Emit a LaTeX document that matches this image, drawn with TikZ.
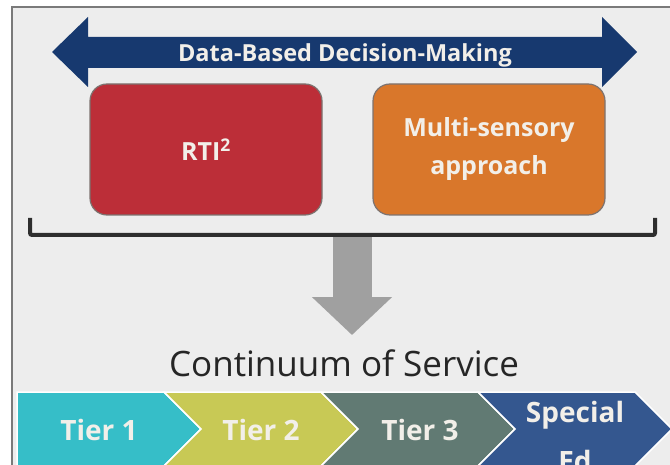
\documentclass[tikz,border=0pt]{standalone}
\usepackage{fontspec}
\setmainfont{Open Sans}
\usetikzlibrary{arrows.meta}

\definecolor{panel}{HTML}{EDEDED}
\definecolor{frame}{HTML}{7A7A7A}
\definecolor{navy}{HTML}{17396F}
\definecolor{rtired}{HTML}{BC2E38}
\definecolor{msorange}{HTML}{D9772B}
\definecolor{boxedge}{HTML}{7D7370}
\definecolor{lbl}{HTML}{F2EFE9}
\definecolor{downgray}{HTML}{A0A0A0}
\definecolor{bracket}{HTML}{2E2E2E}
\definecolor{tierA}{HTML}{36BEC8}
\definecolor{tierB}{HTML}{C8C955}
\definecolor{tierC}{HTML}{617A73}
\definecolor{tierD}{HTML}{34578F}

\tikzset{
  box/.style={draw=boxedge, line width=1.2pt, rounded corners=17pt,
    minimum width=232pt, minimum height=131pt, text=lbl, align=center,
    font=\bfseries\fontsize{25}{38}\selectfont},
  tier/.style={draw=white, line width=1.5pt},
  tierlbl/.style={text=lbl, inner sep=0pt, align=center,
    font=\bfseries\fontsize{28}{49}\selectfont},
  downarrow/.style={draw=downgray, line width=39pt,
    -{Triangle[width=78pt,length=38pt]}},
  brace/.style={draw=bracket, line width=4pt, rounded corners=2pt}
}

\begin{document}
\begin{tikzpicture}[x=1pt,y=-1pt]
        \useasboundingbox (0,0) rectangle (670,465);
        \clip (0,0) rectangle (670,465);
        \fill[white] (0,0) rectangle (670,465);
        \fill[panel] (12,7) rectangle (672,467);
        \draw[frame, line width=2pt] (12,467) -- (12,7) -- (672,7);

        % decision-making band
        \fill[navy] (52,52) -- (88,17) -- (88,37) -- (602,37) -- (602,17) -- (637,52)
                -- (602,87) -- (602,68) -- (88,68) -- (88,87) -- cycle;
        \node[text=lbl, font=\bfseries\fontsize{23.5}{28}\selectfont, anchor=base] (dbdm) at (345,62) {Data-Based Decision-Making};

        \node[box, fill=rtired] (rti) at (206,149.5) {RTI\textsuperscript{2}};
        \node[box, fill=msorange] (multi) at (489,149.5) {Multi-sensory\\approach};

        \node[font=\fontsize{35}{40}\selectfont, text=black!85, inner sep=0pt, anchor=base] (cont) at (344,377) {Continuum of Service};

        \coordinate (brkmid) at (352,236);
        \draw[downarrow, shorten >=15pt] (brkmid) -- (brkmid |- cont.north);
        \draw[brace] (30,218) -- (30,235) -- (655,235) -- (655,218);

        \foreach \n/\col/\l/\d/\r/\tx/\ty/\anc/\txt in {
                1/tierA/17/0/164/99/440/base/Tier 1,
                2/tierB/164/37/321/261/440/base/Tier 2,
                3/tierC/321/37/478/420/440/base/Tier 3,
                4/tierD/478/37/635/575/436/center/{Special\\Ed}}
        {
                \filldraw[tier, fill=\col] (\l,392) -- (\r,392) -- (\r+37,429) -- (\r,466) -- (\l,466) -- (\l+\d,429) -- cycle;
                \node[tierlbl, anchor=\anc] (tier\n) at (\tx,\ty) {\txt};
        }
\end{tikzpicture}
\end{document}
